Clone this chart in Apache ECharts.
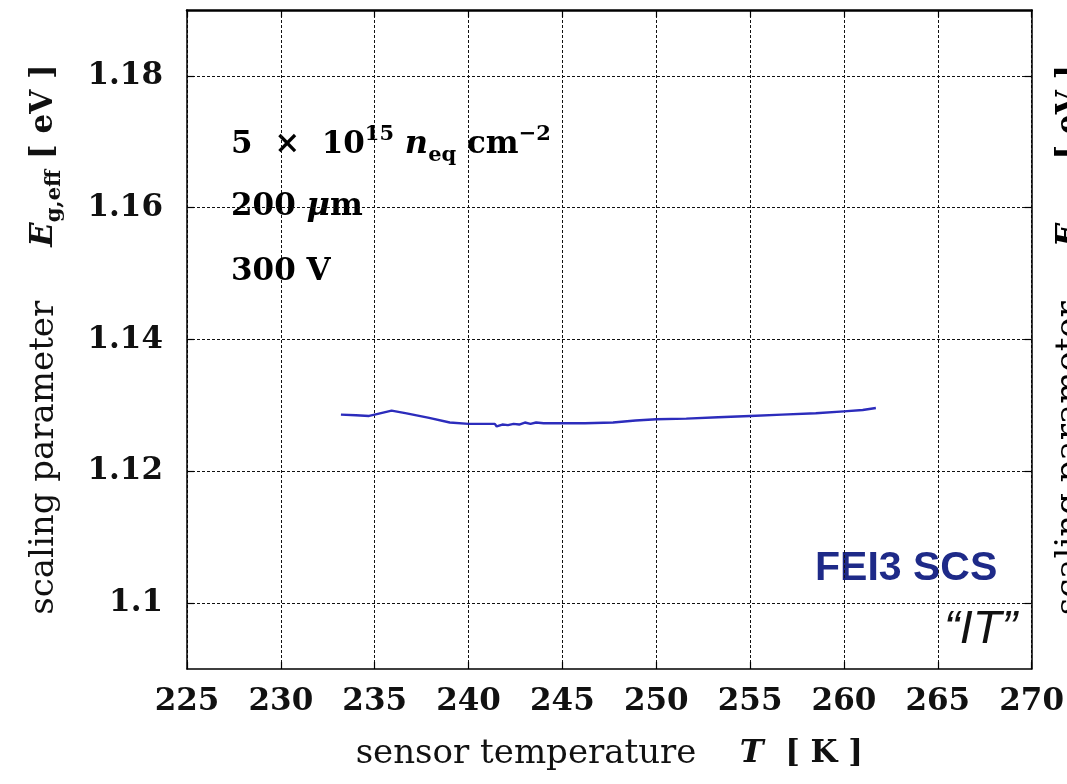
<!DOCTYPE html>
<html>
<head>
<meta charset="utf-8">
<script src="https://cdn.jsdelivr.net/npm/echarts@6/dist/echarts.min.js"></script>
<style>
html,body{margin:0;padding:0;background:#fff;}
#chart{width:1067px;height:784px;}
</style>
</head>
<body>
<div id="chart"></div>
<script>
// ---- data ----
const temperatureK = [233.2, 234.0, 234.7, 235.0, 235.9, 236.7, 237.9, 239.0, 240.0, 240.9, 241.4, 241.5, 241.8, 242.1, 242.4, 242.7, 243.0, 243.3, 243.6, 244.0, 245.0, 246.2, 247.7, 248.9, 250.0, 251.6, 253.3, 255.0, 256.7, 258.5, 260.0, 261.0, 261.7];
const egEff = [1.1286, 1.1285, 1.1284, 1.1286, 1.1292, 1.1288, 1.1281, 1.1274, 1.1272, 1.1272, 1.1272, 1.1268, 1.1271, 1.1270, 1.1272, 1.1271, 1.1274, 1.1272, 1.1274, 1.1273, 1.1273, 1.1273, 1.1274, 1.1277, 1.1279, 1.1280, 1.1282, 1.1284, 1.1286, 1.1288, 1.1291, 1.1293, 1.1296];
const xTicks = [225, 230, 235, 240, 245, 250, 255, 260, 265, 270];
const yTicks = [1.10, 1.12, 1.14, 1.16, 1.18];
const thicknessText = '200';
const voltageText = '300 V';
const detectorLabel = 'FEI3 SCS';
const methodLabel = '“IT”';

const serif = 'DejaVu Serif';
const rich = {
  n: {fontFamily: serif, fontSize: 34, color: '#111', lineHeight: 42},
  b: {fontFamily: serif, fontSize: 31, fontWeight: 'bold', color: '#111', lineHeight: 42},
  bi: {fontFamily: serif, fontSize: 32, fontWeight: 'bold', fontStyle: 'italic', color: '#111', lineHeight: 42},
  sub: {fontFamily: serif, fontSize: 21, fontWeight: 'bold', color: '#111', lineHeight: 22, verticalAlign: 'bottom'},
  sup: {fontFamily: serif, fontSize: 21, fontWeight: 'bold', color: '#111', lineHeight: 24, verticalAlign: 'top'}
};
const yName = '{n|scaling parameter     }{bi|E}{sub|g,eff}{n| }{b|[ eV ]}';
const xName = '{n|sensor temperature    }{bi|T}{n|  }{b|[ K ]}';

const chart = echarts.init(document.getElementById('chart'));
const gridDash = {color: '#111', width: 1, type: [3, 2]};
const labelFont = {fontFamily: serif, fontSize: 31, fontWeight: 'bold', color: '#111'};

chart.setOption({
  animation: false,
  backgroundColor: '#fff',
  grid: {left: 187, top: 10, right: 34, bottom: 115, show: false},
  xAxis: [{
    type: 'value', min: xTicks[0], max: xTicks[xTicks.length - 1], interval: 5,
    axisLine: {show: true, lineStyle: {color: '#000', width: 1.5}},
    axisTick: {show: true, inside: true, length: 7, lineStyle: {color: '#000', width: 1.2}},
    axisLabel: Object.assign({margin: 17}, labelFont),
    splitLine: {show: true, lineStyle: gridDash},
    name: xName, nameLocation: 'middle', nameGap: 64,
    nameTextStyle: {rich: rich}
  }, {
    type: 'value', position: 'top', min: xTicks[0], max: xTicks[xTicks.length - 1], interval: 5,
    axisLine: {show: true, lineStyle: {color: '#000', width: 2.5}},
    axisTick: {show: true, inside: true, length: 7, lineStyle: {color: '#000', width: 1.2}},
    axisLabel: {show: false}, splitLine: {show: false}
  }],
  yAxis: [{
    type: 'value', min: 1.09, max: 1.19,
    axisLine: {show: true, lineStyle: {color: '#000', width: 1.5}},
    axisTick: {show: true, inside: true, length: 7, customValues: yTicks, lineStyle: {color: '#000', width: 1.2}},
    axisLabel: Object.assign({margin: 24, customValues: yTicks}, labelFont),
    splitLine: {show: true, lineStyle: gridDash},
    name: yName, nameLocation: 'middle', nameRotate: 90, nameGap: 122,
    nameTextStyle: {rich: rich}
  }, {
    type: 'value', position: 'right', min: 1.09, max: 1.19,
    axisLine: {show: true, lineStyle: {color: '#000', width: 1.5}},
    axisTick: {show: true, inside: true, length: 7, customValues: yTicks, lineStyle: {color: '#000', width: 1.2}},
    axisLabel: {show: false, customValues: yTicks}, splitLine: {show: false}
  }],
  series: [{
    type: 'line', xAxisIndex: 0, yAxisIndex: 0,
    data: temperatureK.map((t, i) => [t, egEff[i]]),
    showSymbol: false, smooth: false,
    lineStyle: {color: '#2c2cbc', width: 2.4}
  }],
  graphic: [
    {type: 'text', left: 231, top: 124, style: {
      text: '{b|5  ×  10}{sup|15}{b| }{bi|n}{sub|eq}{b| cm}{sup|−2}', rich: rich}},
    {type: 'text', left: 231, top: 191, style: {text: '{b|' + thicknessText + ' }{bi|μ}{b|m}', rich: rich}},
    {type: 'text', left: 231, top: 256, style: {text: '{b|' + voltageText + '}', rich: rich}},
    {type: 'text', left: 815, top: 548, style: {
      text: detectorLabel, fontFamily: 'Liberation Sans', fontWeight: 'bold', fontSize: 41, fill: '#1e2a88'}},
    {type: 'text', left: 944, top: 606, style: {
      text: methodLabel, fontFamily: 'Liberation Sans', fontStyle: 'italic', fontSize: 47, fill: '#111'}},
    {type: 'text', x: 1070, y: 340, rotation: Math.PI / 2, style: {
      text: yName, rich: rich, align: 'center', verticalAlign: 'middle'}}
  ]
});
</script>
</body>
</html>
